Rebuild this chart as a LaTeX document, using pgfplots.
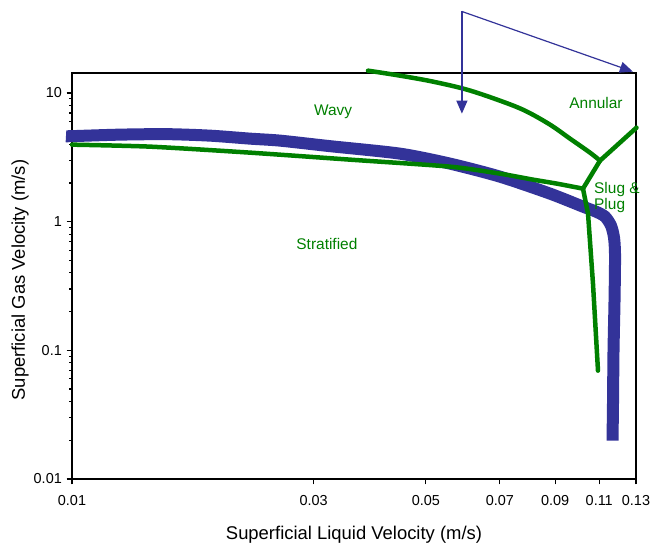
\documentclass[border=0pt]{standalone}
\usepackage{fontspec}
\setmainfont{Liberation Sans}
\usepackage{pgfplots}
\pgfplotsset{compat=1.18}
\usetikzlibrary{arrows.meta}
\definecolor{flowblue}{RGB}{51,51,153}
\definecolor{flowgreen}{RGB}{0,128,0}

\begin{document}
\begin{tikzpicture}
\begin{axis}[
  scale only axis, width=564bp, height=406bp,
  xmode=log, ymode=log,
  xmin=0.01, xmax=0.13, ymin=0.01, ymax=14.3,
  xtick={0.01,0.03,0.05,0.07,0.09,0.11,0.13},
  xticklabels={0.01,0.03,0.05,0.07,0.09,0.11,0.13},
  ytick={0.01,0.1,1,10},
  yticklabels={0.01,0.1,1,10},
  minor xtick={}, minor ytick={},
  tick align=outside,
  xtick pos=bottom, ytick pos=left,
  major tick length=5.5bp,
  tick style={black, line width=1.2bp},
  axis line style={black, line width=1.2bp},
  xticklabel style={font=\fontsize{14.5}{16}\selectfont, inner sep=0pt, anchor=north, yshift=-11bp},
  yticklabel style={font=\fontsize{14.5}{16}\selectfont, inner sep=0pt, anchor=east, xshift=-4.5bp},
  xlabel={Superficial Liquid Velocity (m/s)},
  ylabel={Superficial Gas Velocity (m/s)},
  xlabel style={font=\fontsize{18.5}{20}\selectfont, at={(axis description cs:0.5,-0.1379)}, anchor=center},
  ylabel style={font=\fontsize{18.5}{20}\selectfont, at={(axis description cs:-0.0922,0.49)}, anchor=center},
  clip=false,
]
% invisible frame fixing the page size
\path (axis description cs:-0.1277,-0.1626) rectangle (axis description cs:1.0319,1.1798);

% blue thick boundary
\addplot[flowblue, line width=12bp, smooth, tension=0.45, line cap=butt, line join=round] coordinates {
  (0.00973,4.610) (0.01,4.618) (0.01244,4.745) (0.01540,4.786) (0.01873,4.660)
  (0.02247,4.417) (0.02576,4.262) (0.03232,3.862) (0.04443,3.377) (0.05580,2.824)
  (0.07003,2.237) (0.08793,1.651) (0.10216,1.308) (0.10839,1.196) (0.11291,1.094)
  (0.11604,0.931) (0.11764,0.751) (0.11818,0.544) (0.11791,0.2432) (0.11737,0.0994)
  (0.11711,0.0406) (0.11684,0.01986)
};

% green: stratified / wavy boundary
\addplot[flowgreen, line width=4.5bp, smooth, tension=0.4, line cap=round] coordinates {
  (0.01,3.967) (0.01426,3.828) (0.02247,3.438) (0.03541,3.033) (0.05580,2.676)
  (0.07003,2.361) (0.08138,2.121) (0.09076,1.974) (0.10216,1.805)
};
% green: near-vertical line
\addplot[flowgreen, line width=4.5bp, line cap=round] coordinates {
  (0.10216,1.805) (0.10452,1.154) (0.10691,0.3297) (0.10937,0.0695)
};
% green: junction to junction
\addplot[flowgreen, line width=4.5bp, line cap=round] coordinates {
  (0.10216,1.805) (0.11037,2.979)
};
% green: junction to right edge
\addplot[flowgreen, line width=4.5bp, line cap=round] coordinates {
  (0.11037,2.979) (0.1303,5.378)
};
% green: wavy / annular boundary
\addplot[flowgreen, line width=4.5bp, smooth, tension=0.55, line cap=round] coordinates {
  (0.03843,14.91) (0.04443,13.64) (0.05164,12.25) (0.06029,10.61) (0.07003,8.716)
  (0.07848,7.289) (0.08793,5.675) (0.09630,4.417) (0.10546,3.438) (0.11037,2.979)
};

% arrows
\draw[flowblue, line width=1.2bp, -{Triangle[length=13bp,width=11bp]}]
  (axis cs:0.0589,43) -- (axis cs:0.0589,6.91);
\draw[flowblue, line width=1.2bp, -{Triangle[length=13bp,width=11bp]}]
  (axis cs:0.0589,43) -- (axis cs:0.1282,14.65);

% region labels
\node[text=flowgreen, font=\fontsize{15.5}{17}\selectfont] at (axis cs:0.03279,7.16) {Wavy};
\node[text=flowgreen, font=\fontsize{15.5}{17}\selectfont] at (axis cs:0.1084,8.41) {Annular};
\node[text=flowgreen, font=\fontsize{15.5}{17}\selectfont, align=left, anchor=west, inner sep=0pt] at (axis cs:0.1074,1.53) {Slug \&\\[-1bp]Plug};
\node[text=flowgreen, font=\fontsize{15.5}{17}\selectfont] at (axis cs:0.03188,0.6746) {Stratified};
\end{axis}
\end{tikzpicture}
\end{document}
